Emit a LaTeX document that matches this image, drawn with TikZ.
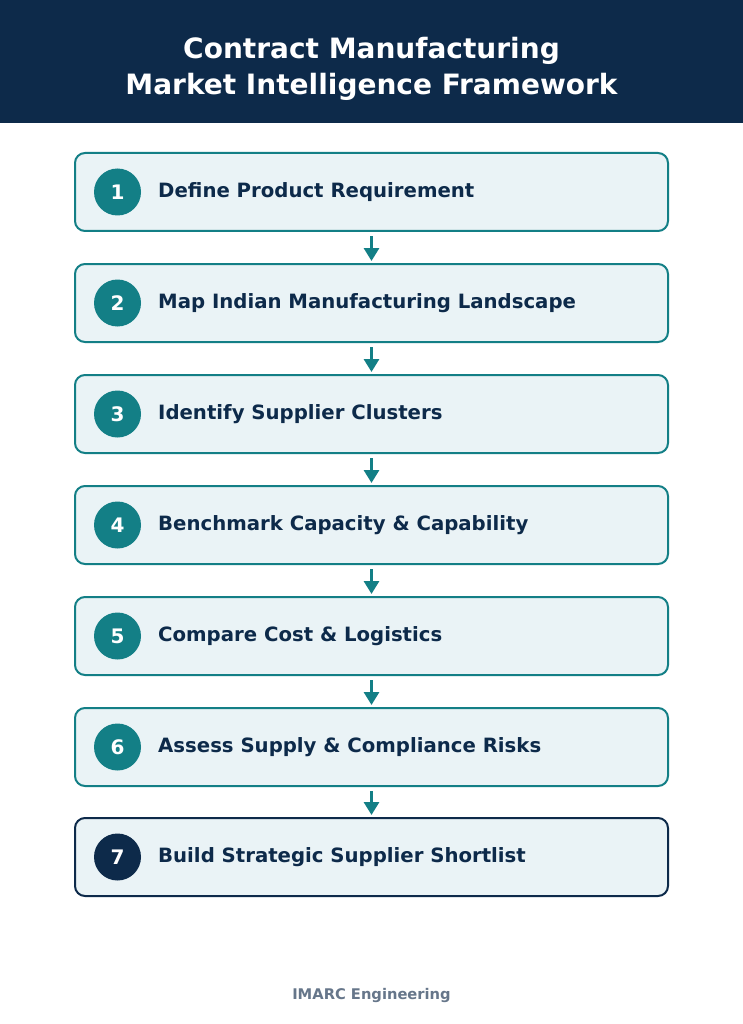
\documentclass[tikz,border=0pt]{standalone}
\usepackage{fontspec}
\setmainfont{DejaVu Sans}
\usetikzlibrary{arrows.meta}
\definecolor{navy}{HTML}{0D2A4A}
\definecolor{teal}{HTML}{137F86}
\definecolor{boxfill}{HTML}{EAF3F6}
\definecolor{footgrey}{HTML}{66768A}
\tikzset{
  stepbox/.style={draw=teal, line width=2pt, fill=boxfill, rounded corners=10pt,
    minimum width=593pt, minimum height=78pt, inner sep=0pt},
  numdot/.style={circle, fill=teal, minimum size=47pt, inner sep=0pt,
    text=white, font=\bfseries\fontsize{20}{24}\selectfont},
  steplabel/.style={anchor=west, text=navy, inner sep=0pt, font=\bfseries\fontsize{19.7}{24}\selectfont},
  flow/.style={draw=teal, line width=3pt, -{Triangle[width=15pt,length=13pt]}}
}
\begin{document}
\begin{tikzpicture}[x=1pt,y=-1pt]
	\useasboundingbox (0,0) rectangle (743,1024);
	\fill[white] (0,0) rectangle (743,1024);
	
	% header
	\fill[navy] (0,0) rectangle (743,123);
	\node[text=white, align=center, font=\bfseries\fontsize{28}{36}\selectfont] (title) at (371.5,69)
		{Contract Manufacturing\\Market Intelligence Framework};
	
	% steps
	\node[stepbox] (box1) at (371.5,192) {};
	\node[numdot] (num1) at (117.5,192) {1};
	\node[steplabel] (lab1) at (158,192) {Define Product Requirement};
	
	\node[stepbox] (box2) at (371.5,303) {};
	\node[numdot] (num2) at (117.5,303) {2};
	\node[steplabel] (lab2) at (158,303) {Map Indian Manufacturing Landscape};
	
	\node[stepbox] (box3) at (371.5,414) {};
	\node[numdot] (num3) at (117.5,414) {3};
	\node[steplabel] (lab3) at (158,414) {Identify Supplier Clusters};
	
	\node[stepbox] (box4) at (371.5,525) {};
	\node[numdot] (num4) at (117.5,525) {4};
	\node[steplabel] (lab4) at (158,525) {Benchmark Capacity \& Capability};
	
	\node[stepbox] (box5) at (371.5,636) {};
	\node[numdot] (num5) at (117.5,636) {5};
	\node[steplabel] (lab5) at (158,636) {Compare Cost \& Logistics};
	
	\node[stepbox] (box6) at (371.5,747) {};
	\node[numdot] (num6) at (117.5,747) {6};
	\node[steplabel] (lab6) at (158,747) {Assess Supply \& Compliance Risks};
	
	\node[stepbox, draw=navy] (box7) at (371.5,857) {};
	\node[numdot, fill=navy] (num7) at (117.5,857) {7};
	\node[steplabel] (lab7) at (158,857) {Build Strategic Supplier Shortlist};
	
	% arrows
	\draw[flow] ([yshift=-4pt]box1.south) -- ([yshift=2pt]box2.north);
	\draw[flow] ([yshift=-4pt]box2.south) -- ([yshift=2pt]box3.north);
	\draw[flow] ([yshift=-4pt]box3.south) -- ([yshift=2pt]box4.north);
	\draw[flow] ([yshift=-4pt]box4.south) -- ([yshift=2pt]box5.north);
	\draw[flow] ([yshift=-4pt]box5.south) -- ([yshift=2pt]box6.north);
	\draw[flow] ([yshift=-4pt]box6.south) -- ([yshift=2pt]box7.north);
	
	% footer
	\node[text=footgrey, font=\bfseries\fontsize{14.7}{17}\selectfont] (foot) at (371.5,995) {IMARC Engineering};
\end{tikzpicture}
\end{document}
